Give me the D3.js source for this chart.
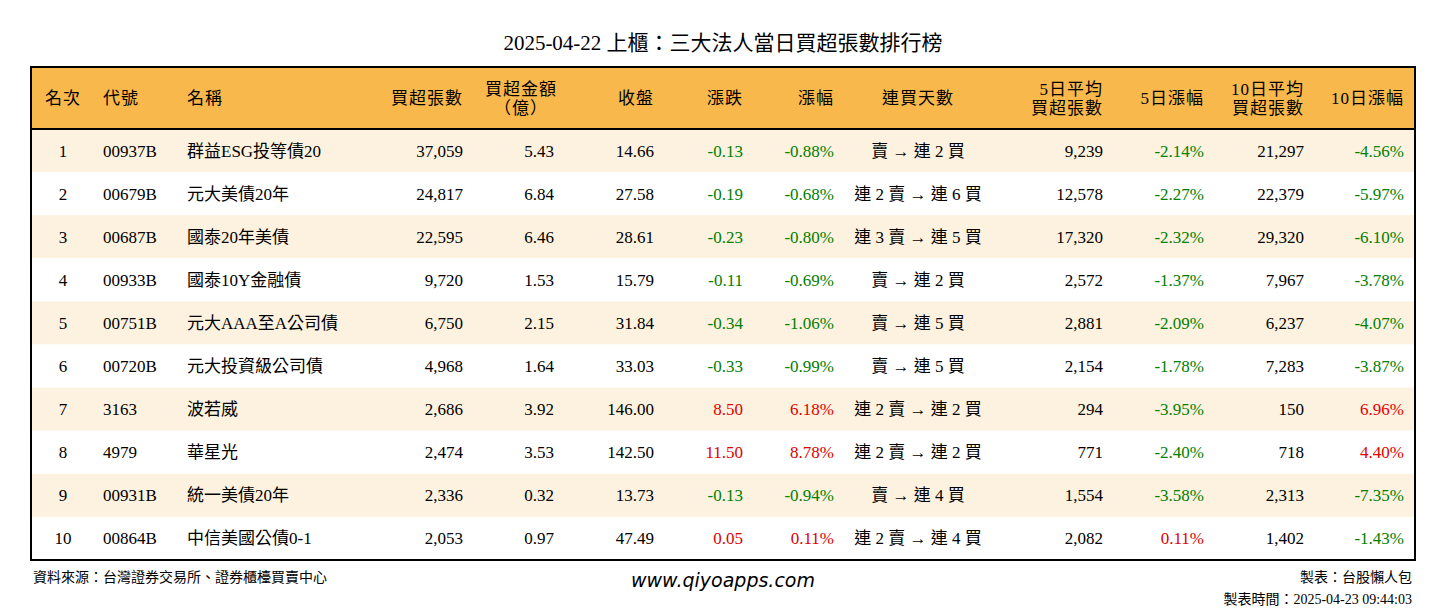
<!DOCTYPE html><html><head><meta charset="utf-8"><script src="https://cdn.jsdelivr.net/npm/d3@7"></script>
<style>body{margin:0;background:#fff}svg text{font-family:"Liberation Serif","Noto Sans CJK TC",serif}</style></head><body><svg id="c" width="1446" height="612"></svg>
<script>
const ranks=[1,2,3,4,5,6,7,8,9,10];
const codes=["00937B","00679B","00687B","00933B","00751B","00720B","3163","4979","00931B","00864B"];
const names=["群益ESG投等債20","元大美債20年","國泰20年美債","國泰10Y金融債","元大AAA至A公司債","元大投資級公司債","波若威","華星光","統一美債20年","中信美國公債0-1"];
const netLots=["37,059","24,817","22,595","9,720","6,750","4,968","2,686","2,474","2,336","2,053"];
const netAmt=["5.43","6.84","6.46","1.53","2.15","1.64","3.92","3.53","0.32","0.97"];
const closeP=["14.66","27.58","28.61","15.79","31.84","33.03","146.00","142.50","13.73","47.49"];
const chg=["-0.13","-0.19","-0.23","-0.11","-0.34","-0.33","8.50","11.50","-0.13","0.05"];
const chgPct=["-0.88%","-0.68%","-0.80%","-0.69%","-1.06%","-0.99%","6.18%","8.78%","-0.94%","0.11%"];
const streak=["賣 → 連 2 買","連 2 賣 → 連 6 買","連 3 賣 → 連 5 買","賣 → 連 2 買","賣 → 連 5 買","賣 → 連 5 買","連 2 賣 → 連 2 買","連 2 賣 → 連 2 買","賣 → 連 4 買","連 2 賣 → 連 4 買"];
const avg5=["9,239","12,578","17,320","2,572","2,881","2,154","294","771","1,554","2,082"];
const pct5=["-2.14%","-2.27%","-2.32%","-1.37%","-2.09%","-1.78%","-3.95%","-2.40%","-3.58%","0.11%"];
const avg10=["21,297","22,379","29,320","7,967","6,237","7,283","150","718","2,313","1,402"];
const pct10=["-4.56%","-5.97%","-6.10%","-3.78%","-4.07%","-3.87%","6.96%","4.40%","-7.35%","-1.43%"];
const headers=["名次","代號","名稱","買超張數","買超金額\n（億）","收盤","漲跌","漲幅","連買天數","5日平均\n買超張數","5日漲幅","10日平均\n買超張數","10日漲幅"];
const cols=[
 {x:63,a:"middle",hx:63,ha:"middle",d:ranks},
 {x:103,a:"start",hx:103,ha:"start",d:codes},
 {x:187,a:"start",hx:187,ha:"start",d:names},
 {x:463,a:"end",d:netLots},
 {x:554,a:"end",hx:521,ha:"middle",d:netAmt},
 {x:654,a:"end",d:closeP},
 {x:743,a:"end",d:chg,c:true},
 {x:834,a:"end",d:chgPct,c:true},
 {x:918,a:"middle",d:streak},
 {x:1103,a:"end",d:avg5},
 {x:1204,a:"end",d:pct5,c:true},
 {x:1304,a:"end",d:avg10},
 {x:1404,a:"end",d:pct10,c:true}];
const svg=d3.select("#c");
const L=31,R=1415,T=67,H=129,B=560;
const y=d3.scaleBand().domain(ranks).range([H,B]);
svg.append("rect").attr("x",L).attr("y",T).attr("width",R-L).attr("height",H-T).attr("fill","#F8B84C");
svg.selectAll("rect.row").data(ranks).join("rect").attr("x",L).attr("y",d=>y(d)).attr("width",R-L).attr("height",y.bandwidth()).attr("fill",(d,i)=>i%2==0?"#FDF2DF":"#fff");
svg.append("line").attr("x1",L).attr("x2",R).attr("y1",H).attr("y2",H).attr("stroke","#000").attr("stroke-width",2);
svg.append("rect").attr("x",L).attr("y",T).attr("width",R-L).attr("height",B-T).attr("fill","none").attr("stroke","#000").attr("stroke-width",2);
svg.append("text").attr("x",723).attr("y",50).attr("text-anchor","middle").attr("font-size",21).text("2025-04-22 上櫃：三大法人當日買超張數排行榜");
const col=v=>v.startsWith("-")?"#008000":"#E00000";
cols.forEach((c,j)=>{
 const lines=headers[j].split("\n");
 const t=svg.append("text").attr("x",c.hx??c.x).attr("text-anchor",c.ha??c.a).attr("font-size",17).attr("letter-spacing",1);
 lines.forEach((l,k)=>t.append("tspan").attr("x",c.hx??c.x).attr("y",lines.length==1?104:95+k*19).text(l));
 svg.selectAll(null).data(c.d).join("text").attr("x",c.x).attr("y",(d,i)=>y(ranks[i])+y.bandwidth()/2+6).attr("text-anchor",c.a).attr("font-size",17)
  .attr("fill",d=>c.c?col(String(d)):"#000").text(d=>d);
});
svg.append("text").attr("x",33).attr("y",582).attr("font-size",14).text("資料來源：台灣證券交易所、證券櫃檯買賣中心");
svg.append("text").attr("x",723).attr("y",587).attr("text-anchor","middle").attr("font-size",19).attr("font-style","italic").style("font-family","DejaVu Sans").text("www.qiyoapps.com");
svg.append("text").attr("x",1412).attr("y",582).attr("text-anchor","end").attr("font-size",14).text("製表：台股懶人包");
svg.append("text").attr("x",1412).attr("y",604).attr("text-anchor","end").attr("font-size",14).text("製表時間：2025-04-23 09:44:03");
</script></body></html>
